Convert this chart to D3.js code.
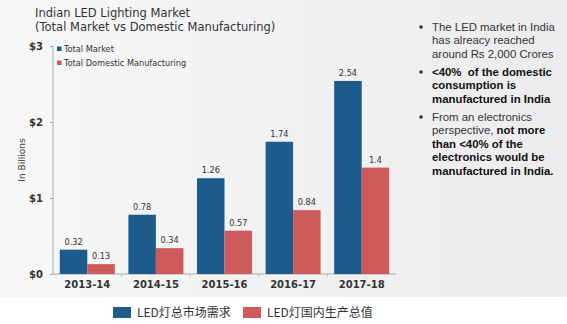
<!DOCTYPE html>
<html><head><meta charset="utf-8">
<script src="https://cdn.jsdelivr.net/npm/d3@7"></script>
<style>body{margin:0;background:#fff}svg{display:block}</style>
</head><body>
<svg id="c" width="567" height="324"></svg>
<script>
const categories = ["2013-14","2014-15","2015-16","2016-17","2017-18"];
const totalMarket = [0.32,0.78,1.26,1.74,2.54];
const domesticMfg = [0.13,0.34,0.57,0.84,1.4];
const totalLabels = ["0.32","0.78","1.26","1.74","2.54"];
const domesticLabels = ["0.13","0.34","0.57","0.84","1.4"];
const seriesNames = ["Total Market","Total Domestic Manufacturing"];
const bottomLegend = ["LED灯总市场需求","LED灯国内生产总值"];
const yTicks = [0,1,2,3];
const colors = ["#1d5b8c","#cf5a5b"];

const svg = d3.select("#c");
const defs = svg.append("defs");
const g1 = defs.append("linearGradient").attr("id","bg").attr("x1","0").attr("x2","1").attr("y1","0").attr("y2","0");
g1.append("stop").attr("offset","0").attr("stop-color","#f7f7f8");
g1.append("stop").attr("offset","0.5").attr("stop-color","#f1f1f2");
g1.append("stop").attr("offset","1").attr("stop-color","#ececee");
svg.append("rect").attr("x",0).attr("y",0).attr("width",567).attr("height",297).attr("fill","url(#bg)");
svg.append("rect").attr("x",0).attr("y",297).attr("width",567).attr("height",27).attr("fill","#ffffff");

const vf = "Verdana, 'DejaVu Sans', sans-serif";
// title
svg.append("text").attr("x",35).attr("y",17).attr("font-family",vf).attr("font-size",11.5).attr("fill","#333").text("Indian LED Lighting Market");
svg.append("text").attr("x",35).attr("y",31).attr("font-family",vf).attr("font-size",11.5).attr("fill","#333").text("(Total Market vs Domestic Manufacturing)");

const y = d3.scaleLinear().domain([0,3]).range([274,46]);
const x0 = d3.scaleBand().domain(categories).range([53,396]).padding(0);
const x1 = d3.scaleBand().domain(seriesNames).range([0,x0.bandwidth()]).paddingInner(0).paddingOuter(0.247);

// y axis
const ya = svg.append("g").attr("transform","translate(53,0)")
  .call(d3.axisLeft(y).tickValues(yTicks).tickSize(3).tickFormat(d=>"$"+d));
ya.select(".domain").attr("stroke","#aaa").attr("d","M0,46V274");
ya.selectAll(".tick line").attr("stroke","#aaa");
ya.selectAll(".tick text").attr("x",-10).attr("font-family",vf).attr("font-weight","bold").attr("font-size",10).attr("fill","#333");

// x axis
const xa = svg.append("g").attr("transform","translate(0,274)")
  .call(d3.axisBottom(x0).tickSize(0).tickPadding(7));
xa.select(".domain").attr("stroke","#aaa").attr("d","M53,0H396");
xa.selectAll(".tick text").attr("font-family",vf).attr("font-weight","bold").attr("font-size",10).attr("fill","#333").attr("dy","0.71em");
// small separators
svg.append("g").selectAll("line").data(categories.slice(1)).join("line")
  .attr("x1",d=>x0(d)).attr("x2",d=>x0(d)).attr("y1",274).attr("y2",277).attr("stroke","#bbb");

// axis title
svg.append("text").attr("transform","translate(25,160) rotate(-90)").attr("text-anchor","middle")
  .attr("font-family",vf).attr("font-size",9).attr("fill","#444").text("In Billions");

// bars
const series = [totalMarket, domesticMfg];
const labels = [totalLabels, domesticLabels];
series.forEach((vals,si)=>{
  const name = seriesNames[si];
  svg.append("g").selectAll("rect").data(categories).join("rect")
    .attr("x",(d)=>x0(d)+x1(name)).attr("width",x1.bandwidth())
    .attr("y",(d,i)=>y(vals[i])).attr("height",(d,i)=>y(0)-y(vals[i]))
    .attr("fill",colors[si]);
  svg.append("g").selectAll("text").data(categories).join("text")
    .attr("x",(d)=>x0(d)+x1(name)+x1.bandwidth()/2).attr("y",(d,i)=>y(vals[i])-5)
    .attr("text-anchor","middle").attr("font-family",vf).attr("font-size",8.2).attr("fill","#333")
    .text((d,i)=>labels[si][i]);
});

// inner legend
seriesNames.forEach((n,i)=>{
  svg.append("rect").attr("x",57).attr("y",46.5+i*14).attr("width",4.5).attr("height",4.5).attr("fill",colors[i]);
  svg.append("text").attr("x",64).attr("y",52+i*14).attr("font-family",vf).attr("font-size",8.2).attr("fill","#333").text(n);
});

// bullets
const af = "'Liberation Sans', Arial, sans-serif";
const bullets = [
  {y:31, lines:[[["The LED market in India",false]],[["has alreacy reached",false]],[["around Rs 2,000 Crores",false]]]},
  {y:76, lines:[[["<40%\u00a0 of the domestic",true]],[["consumption is",true]],[["manufactured in India",true]]]},
  {y:121, lines:[[["From an electronics",false]],[["perspective, ",false],["not more",true]],[["than <40% of the",true]],[["electronics would be",true]],[["manufactured in India.",true]]]}
];
bullets.forEach(b=>{
  svg.append("circle").attr("cx",421).attr("cy",b.y-4).attr("r",1.8).attr("fill","#333");
  b.lines.forEach((ln,li)=>{
    const t = svg.append("text").attr("x",432).attr("y",b.y+li*13.4).attr("font-family",af).attr("font-size",11.4).attr("fill","#222");
    ln.forEach(([s,bold])=>{
      t.append("tspan").attr("font-weight",bold?"bold":"normal").attr("fill",bold?"#111":"#333").text(s);
    });
  });
});

// bottom legend
const cj = "'Noto Sans CJK SC', sans-serif";
[113,243].forEach((lx,i)=>{
  svg.append("rect").attr("x",lx).attr("y",307).attr("width",18).attr("height",11).attr("fill",colors[i]);
  svg.append("text").attr("x",lx+24).attr("y",317).attr("font-family",cj).attr("font-size",12).attr("fill","#333").text(bottomLegend[i]);
});
</script>
</body></html>
